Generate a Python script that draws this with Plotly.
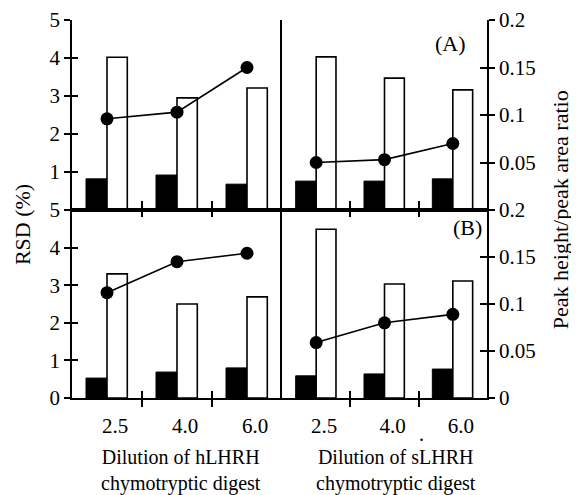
import plotly.graph_objects as go

# ---------------- data ----------------
categories = ['2.5', '4.0', '6.0']

# Panel (A)
hlhrh_A_black = [0.82, 0.92, 0.68]      # RSD (%)
hlhrh_A_white = [4.02, 2.95, 3.21]      # RSD (%)
hlhrh_A_ratio = [0.096, 0.103, 0.150]   # peak height / peak area ratio
slhrh_A_black = [0.76, 0.76, 0.82]
slhrh_A_white = [4.03, 3.47, 3.16]
slhrh_A_ratio = [0.050, 0.053, 0.070]

# Panel (B)
hlhrh_B_black = [0.53, 0.69, 0.80]
hlhrh_B_white = [3.30, 2.50, 2.69]
hlhrh_B_ratio = [0.112, 0.145, 0.154]
slhrh_B_black = [0.59, 0.64, 0.77]
slhrh_B_white = [4.49, 3.03, 3.11]
slhrh_B_ratio = [0.059, 0.080, 0.089]

rsd_ticks_top = [1, 2, 3, 4, 5]
rsd_ticks_bottom = [0, 1, 2, 3, 4, 5]
ratio_ticks_top = [0.05, 0.1, 0.15, 0.2]
ratio_ticks_bottom = [0, 0.05, 0.1, 0.15, 0.2]
ratio_text_top = ['0.05', '0.1', '0.15', '0.2']
ratio_text_bottom = ['0', '0.05', '0.1', '0.15', '0.2']

# ---------------- figure ----------------
FONT = 'Liberation Serif'
xpos = list(range(len(categories)))
group_bounds = [i + 0.5 for i in xpos[:-1]]

fig = go.Figure()


def add_panel(black, white, ratio, xa, ya, ya_ratio):
    fig.add_trace(go.Bar(x=xpos, y=black, width=0.3, offset=-0.3,
                         marker=dict(color='black', line=dict(color='black', width=1)),
                         xaxis=xa, yaxis=ya, showlegend=False))
    fig.add_trace(go.Bar(x=xpos, y=white, width=0.29, offset=0,
                         marker=dict(color='white', line=dict(color='black', width=1.6)),
                         xaxis=xa, yaxis=ya, showlegend=False))
    fig.add_trace(go.Scatter(x=xpos, y=ratio, mode='lines+markers',
                             line=dict(color='black', width=1.6),
                             marker=dict(color='black', size=13),
                             xaxis=xa, yaxis=ya_ratio, showlegend=False))


add_panel(hlhrh_A_black, hlhrh_A_white, hlhrh_A_ratio, 'x', 'y', 'y2')
add_panel(slhrh_A_black, slhrh_A_white, slhrh_A_ratio, 'x2', 'y3', 'y4')
add_panel(hlhrh_B_black, hlhrh_B_white, hlhrh_B_ratio, 'x3', 'y5', 'y6')
add_panel(slhrh_B_black, slhrh_B_white, slhrh_B_ratio, 'x4', 'y7', 'y8')

# dummy traces so the overlay axes (inside ticks, labels) get drawn
for xa, ya in [('x', 'y9'), ('x3', 'y10'), ('x2', 'y11'), ('x4', 'y12'),
               ('x5', 'y5'), ('x6', 'y7'), ('x7', 'y5'), ('x8', 'y7')]:
    fig.add_trace(go.Scatter(x=[None], y=[None], mode='markers', xaxis=xa, yaxis=ya,
                             showlegend=False, hoverinfo='skip'))

xm = (282 - 72) / 415
yb = (398 - 210) / 378
LW = 1.6
tickfont = dict(family=FONT, size=21, color='black')
XR = [-0.5, len(categories) - 0.5]

base_x = dict(range=XR, showgrid=False, zeroline=False, showline=True, automargin=False,
              linecolor='black', linewidth=LW, showticklabels=False, ticks='')
ov_x = dict(range=XR, showgrid=False, zeroline=False, showline=False, automargin=False)
base_y = dict(showgrid=False, zeroline=False, linecolor='black', linewidth=LW, automargin=False,
              tickcolor='black', tickwidth=LW, tickfont=tickfont)

layout = dict(
    # page body has an 8px margin, so the figure is made 8px smaller
    width=571, height=487,
    margin=dict(l=64, r=92, t=12, b=97),
    paper_bgcolor='white', plot_bgcolor='white',
    barmode='overlay', showlegend=False,
    font=dict(family=FONT, color='black'),
    # x axes
    xaxis=dict(base_x, domain=[0, xm], anchor='y'),
    xaxis2=dict(base_x, domain=[xm, 1], anchor='y3'),
    xaxis3=dict(base_x, domain=[0, xm], anchor='y5', tickmode='array', tickvals=group_bounds,
                ticks='outside', ticklen=7, tickwidth=LW, tickcolor='black', mirror='ticks'),
    xaxis4=dict(base_x, domain=[xm, 1], anchor='y7', tickmode='array', tickvals=group_bounds,
                ticks='outside', ticklen=7, tickwidth=LW, tickcolor='black', mirror='ticks'),
    xaxis5=dict(ov_x, overlaying='x3', anchor='y5', showticklabels=False, tickmode='array',
                tickvals=group_bounds, ticks='inside', ticklen=7, tickwidth=LW,
                tickcolor='black', mirror='ticks'),
    xaxis6=dict(ov_x, overlaying='x4', anchor='y7', showticklabels=False, tickmode='array',
                tickvals=group_bounds, ticks='inside', ticklen=7, tickwidth=LW,
                tickcolor='black', mirror='ticks'),
    xaxis7=dict(ov_x, overlaying='x3', anchor='y5', tickmode='array', tickvals=xpos,
                ticktext=categories, ticks='', tickfont=tickfont, ticklabelshift=8,
                ticklabelstandoff=13),
    xaxis8=dict(ov_x, overlaying='x4', anchor='y7', tickmode='array', tickvals=xpos,
                ticktext=categories, ticks='', tickfont=tickfont, ticklabelshift=8,
                ticklabelstandoff=13),
    # y axes: top-left
    yaxis=dict(base_y, domain=[yb, 1], anchor='x', range=[0, 5], side='left', showline=True,
               tickmode='array', tickvals=rsd_ticks_top, ticks='outside', ticklen=6),
    yaxis2=dict(domain=[yb, 1], overlaying='y', anchor='x', range=[0, 0.2], visible=False,
                automargin=False),
    yaxis9=dict(base_y, overlaying='y', anchor='x', range=[0, 5], side='left', showline=False,
                tickmode='array', tickvals=rsd_ticks_top, ticks='inside', ticklen=6,
                showticklabels=False),
    # top-right
    yaxis3=dict(base_y, domain=[yb, 1], anchor='x2', range=[0, 5], side='left', showline=True,
                ticks='', showticklabels=False),
    yaxis4=dict(base_y, overlaying='y3', anchor='x2', range=[0, 0.2], side='right', showline=True,
                tickmode='array', tickvals=ratio_ticks_top, ticktext=ratio_text_top,
                ticks='outside', ticklen=6),
    yaxis11=dict(base_y, overlaying='y3', anchor='x2', range=[0, 0.2], side='right', showline=False,
                 tickmode='array', tickvals=ratio_ticks_top, ticks='inside', ticklen=7,
                 showticklabels=False),
    # bottom-left
    yaxis5=dict(base_y, domain=[0, yb], anchor='x3', range=[0, 5], side='left', showline=True,
                tickmode='array', tickvals=rsd_ticks_bottom, ticks='outside', ticklen=6),
    yaxis6=dict(domain=[0, yb], overlaying='y5', anchor='x3', range=[0, 0.2], visible=False,
                automargin=False),
    yaxis10=dict(base_y, overlaying='y5', anchor='x3', range=[0, 5], side='left', showline=False,
                 tickmode='array', tickvals=rsd_ticks_bottom, ticks='inside', ticklen=6,
                 showticklabels=False),
    # bottom-right
    yaxis7=dict(base_y, domain=[0, yb], anchor='x4', range=[0, 5], side='left', showline=True,
                ticks='', showticklabels=False),
    yaxis8=dict(base_y, overlaying='y7', anchor='x4', range=[0, 0.2], side='right', showline=True,
                tickmode='array', tickvals=ratio_ticks_bottom, ticktext=ratio_text_bottom,
                ticks='outside', ticklen=6),
    yaxis12=dict(base_y, overlaying='y7', anchor='x4', range=[0, 0.2], side='right', showline=False,
                 tickmode='array', tickvals=ratio_ticks_bottom, ticks='inside', ticklen=7,
                 showticklabels=False),
)
fig.update_layout(layout)


def note(text, x, y, size, angle=0):
    fig.add_annotation(text=text, x=x, y=y, xref='paper', yref='paper', showarrow=False,
                       xanchor='center', yanchor='middle', textangle=angle, align='center',
                       font=dict(family=FONT, size=size, color='black'))


note('RSD (%)', -0.1205, 0.46, 22, -90)
note('Peak height/peak area ratio', 1.176, 0.497, 22, -90)
note('Dilution of hLHRH<br>chymotryptic digest', 0.263, -0.193, 20)
note('Dilution of sLHRH<br>chymotryptic digest', 0.781, -0.193, 20)
note('(A)', 0.913, 0.939, 22)
note('(B)', 0.953, 0.45, 22)
note('.', 0.843, -0.095, 20)

fig.write_html('out.html')
